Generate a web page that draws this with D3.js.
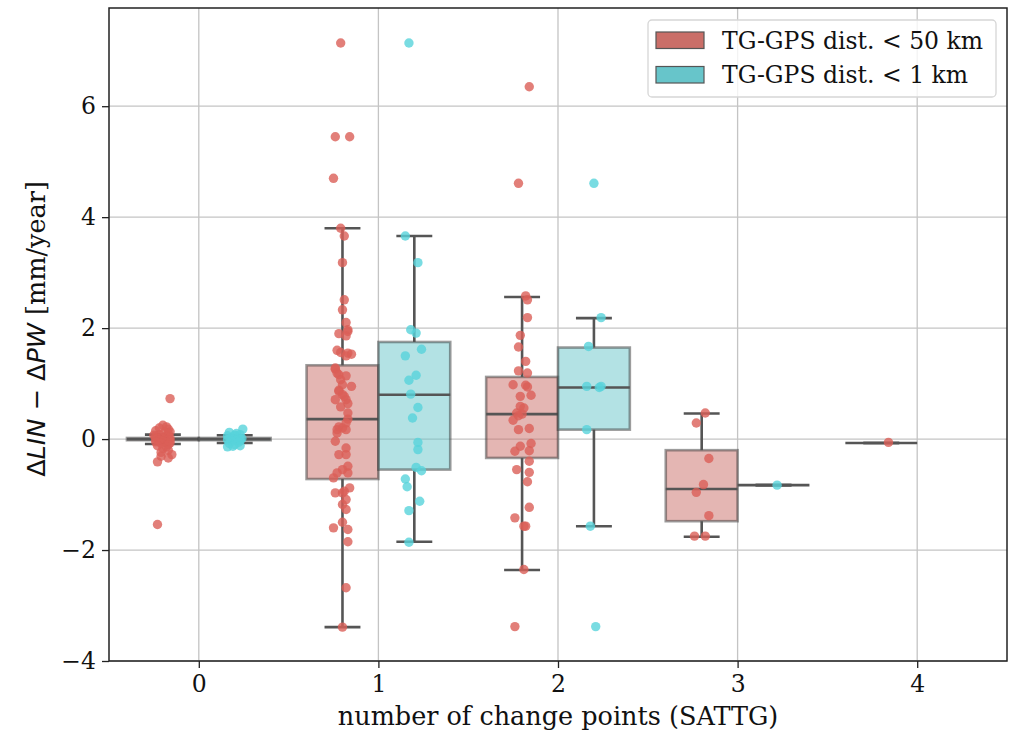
<!DOCTYPE html>
<html>
<head>
<meta charset="utf-8">
<script src="https://cdn.jsdelivr.net/npm/d3@7"></script>
<style>
  html, body { margin: 0; padding: 0; background: #fff; }
  svg { display: block; }
</style>
</head>
<body>
<div id="chart"></div>
<script>
// categories on the x axis and the two hue groups
const categories = [0, 1, 2, 3, 4];
const hueLabels = ["TG-GPS dist. < 50 km", "TG-GPS dist. < 1 km"];
const yTicks = [-4, -2, 0, 2, 4, 6];

// box stats per category: [whisker low, q1, median, q3, whisker high]
const boxes50km = [
  [-0.09, -0.02, 0.0, 0.02, 0.08],
  [-3.39, -0.72, 0.36, 1.33, 3.80],
  [-2.36, -0.34, 0.45, 1.12, 2.56],
  [-1.76, -1.48, -0.90, -0.20, 0.46],
  [-0.07, -0.07, -0.07, -0.07, -0.07]
];
const boxes1km = [
  [-0.07, -0.02, 0.0, 0.02, 0.07],
  [-1.85, -0.55, 0.80, 1.75, 3.66],
  [-1.57, 0.17, 0.93, 1.65, 2.18],
  [-0.83, -0.83, -0.83, -0.83, -0.83],
  null
];

// strip points per category: [value, jitter (category units)]
const strip50km = [
  [[0.73,0.04],[-1.54,-0.03],[0.25,0.0],[0.22,0.02],[0.20,-0.02],[0.18,0.03],[0.15,-0.04],[0.13,0.04],
   [0.12,0.01],[0.10,0.03],[0.08,-0.02],[0.07,-0.05],[0.06,0.02],[0.05,-0.04],[0.04,0.03],[0.03,-0.01],
   [0.02,0.04],[0.01,-0.03],[0.0,0.01],[0.0,-0.04],[-0.01,0.03],[-0.02,-0.02],[-0.03,0.04],[-0.04,0.0],
   [-0.05,-0.04],[-0.06,0.02],[-0.07,0.04],[-0.08,-0.01],[-0.10,0.03],[-0.12,-0.03],[-0.14,0.02],
   [-0.17,0.0],[-0.20,0.03],[-0.24,-0.01],[-0.28,0.05],[-0.31,-0.01],[-0.34,0.03],[-0.41,-0.03]],
  [[7.14,-0.01],[5.45,-0.04],[5.45,0.04],[4.70,-0.05],[3.80,-0.01],[3.66,0.01],[3.18,0.0],[2.51,0.01],
   [2.33,0.0],[2.10,0.02],[1.97,0.03],[1.94,0.03],[1.90,-0.02],[1.86,0.02],[1.60,-0.03],[1.56,-0.01],
   [1.55,0.03],[1.53,0.05],[1.50,0.02],[1.28,-0.04],[1.26,-0.04],[1.19,-0.03],[1.16,-0.02],[1.14,0.02],
   [1.07,-0.01],[0.98,0.0],[0.95,0.05],[0.88,-0.02],[0.86,-0.02],[0.80,0.0],[0.77,0.01],[0.71,-0.04],
   [0.71,0.02],[0.64,0.03],[0.58,-0.01],[0.47,0.03],[0.36,0.03],[0.29,0.02],[0.22,-0.02],[0.20,0.0],
   [0.17,-0.03],[0.17,0.02],[0.11,-0.03],[-0.04,-0.04],[-0.16,0.02],[-0.28,-0.02],[-0.28,0.02],
   [-0.49,0.03],[-0.55,0.0],[-0.61,-0.03],[-0.61,0.03],[-0.70,-0.05],[-0.88,0.04],[-0.94,0.01],
   [-0.97,-0.04],[-0.97,0.0],[-1.09,0.02],[-1.18,0.0],[-1.27,0.02],[-1.50,0.0],[-1.60,-0.05],
   [-1.63,0.03],[-1.85,0.03],[-2.68,0.02],[-3.39,0.0]],
  [[6.35,0.04],[4.61,-0.02],[2.58,0.02],[2.51,0.03],[2.19,0.03],[1.87,-0.01],[1.66,-0.02],[1.40,0.02],
   [1.23,-0.02],[1.19,0.03],[0.98,-0.05],[0.97,0.02],[0.94,0.03],[0.79,0.05],[0.77,-0.01],[0.59,-0.01],
   [0.56,0.01],[0.47,-0.03],[0.45,0.0],[0.42,-0.02],[0.34,-0.05],[0.19,0.04],[0.17,-0.02],[-0.08,0.05],
   [-0.13,-0.01],[-0.21,0.04],[-0.22,-0.04],[-0.40,0.04],[-0.55,-0.03],[-0.60,0.04],[-0.77,0.03],
   [-1.23,0.04],[-1.42,-0.04],[-1.57,0.02],[-1.57,0.01],[-2.35,0.01],[-3.38,-0.04]],
  [[0.47,0.02],[0.29,-0.03],[-0.35,0.04],[-0.82,0.01],[-0.96,-0.03],[-1.38,0.04],[-1.75,-0.04],[-1.75,0.02]],
  [[-0.06,0.04]]
];
const strip1km = [
  [[0.18,0.045],[0.12,-0.03],[0.10,0.01],[0.08,0.03],[0.07,0.0],[0.06,-0.04],[0.05,0.0],[0.03,0.02],
   [0.02,-0.02],[0.01,0.04],[0.0,-0.01],[0.0,0.03],[-0.01,-0.04],[-0.02,0.01],[-0.03,0.03],[-0.04,-0.02],
   [-0.06,0.02],[-0.08,-0.03],[-0.10,0.0],[-0.12,0.03],[-0.13,-0.01],[-0.14,-0.04]],
  [[7.14,-0.03],[3.66,-0.05],[3.18,0.02],[1.97,-0.02],[1.91,0.01],[1.62,0.04],[1.50,-0.05],[1.15,0.01],
   [1.06,-0.03],[0.81,-0.02],[0.57,0.02],[0.38,-0.01],[-0.06,0.02],[-0.19,0.02],[-0.51,0.01],
   [-0.57,0.04],[-0.72,-0.05],[-0.86,-0.04],[-1.12,0.03],[-1.29,-0.03],[-1.86,-0.03]],
  [[4.61,0.0],[2.19,0.04],[1.67,-0.03],[0.95,-0.04],[0.95,0.04],[0.93,0.03],[0.17,-0.04],[-1.57,-0.02],[-3.38,0.01]],
  [[-0.83,0.02]],
  []
];

document.addEventListener('DOMContentLoaded', function() {
  const width = 1020, height = 732;
  const left = 109, right = 1007, top = 8, bottom = 661;

  // seaborn hls colours: full for points, desaturated for boxes / legend
  const pointColors = ["#db5f57", "#57d3db"];
  const boxColors = ["#ca6e68", "#67c5ca"];
  const lineColor = "#555555";
  const hueOffset = [-0.2, 0.2];
  const serif = "'DejaVu Serif', serif";
  const sans = "'DejaVu Sans', sans-serif";

  const svg = d3.select("#chart").append("svg")
    .attr("width", width)
    .attr("height", height);

  const x = d3.scaleLinear().domain([-0.5, 4.5]).range([left, right]);
  const y = d3.scaleLinear().domain([-4, 7.77]).range([bottom, top]);

  // grid
  const grid = svg.append("g").attr("stroke", "#c4c4c4").attr("stroke-width", 1.3);
  grid.selectAll("line.v").data(categories).enter().append("line")
    .attr("x1", d => x(d)).attr("x2", d => x(d))
    .attr("y1", top).attr("y2", bottom);
  grid.selectAll("line.h").data(yTicks).enter().append("line")
    .attr("x1", left).attr("x2", right)
    .attr("y1", d => y(d)).attr("y2", d => y(d));

  // boxes
  [boxes50km, boxes1km].forEach((boxes, h) => {
    const g = svg.append("g");
    boxes.forEach((s, c) => {
      if (!s) return;
      const cx = c + hueOffset[h];
      const [lo, q1, med, q3, hi] = s;
      g.append("rect")
        .attr("x", x(cx - 0.2)).attr("width", x(cx + 0.2) - x(cx - 0.2))
        .attr("y", y(q3)).attr("height", Math.max(0, y(q1) - y(q3)))
        .attr("fill", boxColors[h]).attr("fill-opacity", 0.5)
        .attr("stroke", "#3a3a3a").attr("stroke-opacity", 0.5).attr("stroke-width", 2.6);
      // whiskers + caps
      [[q1, lo], [q3, hi]].forEach(([a, b]) => {
        g.append("line")
          .attr("x1", x(cx)).attr("x2", x(cx))
          .attr("y1", y(a)).attr("y2", y(b))
          .attr("stroke", lineColor).attr("stroke-width", 2.6);
        g.append("line")
          .attr("x1", x(cx - 0.1)).attr("x2", x(cx + 0.1))
          .attr("y1", y(b)).attr("y2", y(b))
          .attr("stroke", lineColor).attr("stroke-width", 2.6);
      });
      g.append("line")
        .attr("x1", x(cx - 0.2)).attr("x2", x(cx + 0.2))
        .attr("y1", y(med)).attr("y2", y(med))
        .attr("stroke", lineColor).attr("stroke-width", 2.6);
    });
  });

  // strip points
  [strip50km, strip1km].forEach((groups, h) => {
    groups.forEach((pts, c) => {
      svg.append("g").selectAll("circle")
        .data(pts).enter().append("circle")
        .attr("cx", d => x(c + hueOffset[h] + d[1]))
        .attr("cy", d => y(d[0]))
        .attr("r", 4.7)
        .attr("fill", pointColors[h])
        .attr("fill-opacity", 0.8);
    });
  });

  // axes
  const xAxis = svg.append("g")
    .attr("transform", `translate(0,${bottom})`)
    .call(d3.axisBottom(x).tickValues(categories).tickFormat(d3.format("d"))
      .tickSize(7).tickSizeOuter(0).tickPadding(7));
  const yAxis = svg.append("g")
    .attr("transform", `translate(${left},0)`)
    .call(d3.axisLeft(y).tickValues(yTicks).tickFormat(d3.format("d"))
      .tickSize(7).tickSizeOuter(0).tickPadding(6));
  [xAxis, yAxis].forEach(a => {
    a.select(".domain").remove();
    a.selectAll(".tick line").attr("stroke", "#222").attr("stroke-width", 1.3);
    a.selectAll(".tick text")
      .attr("fill", "#111")
      .style("font-family", serif)
      .style("font-size", "23.5px");
  });

  // frame
  svg.append("rect")
    .attr("x", left).attr("y", top)
    .attr("width", right - left).attr("height", bottom - top)
    .attr("fill", "none").attr("stroke", "#222").attr("stroke-width", 1.5);

  // axis labels
  svg.append("text")
    .attr("x", (left + right) / 2).attr("y", 725)
    .attr("text-anchor", "middle")
    .attr("fill", "#111")
    .style("font-family", serif).style("font-size", "25.5px")
    .text("number of change points (SATTG)");

  const yl = svg.append("text")
    .attr("transform", `translate(45,329) rotate(-90)`)
    .attr("text-anchor", "middle")
    .attr("fill", "#111")
    .style("font-size", "25.5px");
  yl.append("tspan").style("font-family", sans).text("Δ");
  yl.append("tspan").style("font-family", sans).style("font-style", "italic").text("LIN");
  yl.append("tspan").style("font-family", sans).text(" − Δ");
  yl.append("tspan").style("font-family", sans).style("font-style", "italic").text("PW");
  yl.append("tspan").style("font-family", serif).text(" [mm/year]");

  // legend
  const leg = svg.append("g");
  leg.append("rect")
    .attr("x", 648).attr("y", 20).attr("width", 348).attr("height", 77).attr("rx", 4)
    .attr("fill", "#fff").attr("fill-opacity", 0.8)
    .attr("stroke", "#d6d6d6").attr("stroke-width", 1.3);
  hueLabels.forEach((label, i) => {
    const yy = 32 + i * 34.5;
    leg.append("rect")
      .attr("x", 656).attr("y", yy).attr("width", 48).attr("height", 16.5)
      .attr("fill", boxColors[i]).attr("stroke", "#555").attr("stroke-width", 1.2);
    leg.append("text")
      .attr("x", 722).attr("y", yy + 16.5)
      .attr("fill", "#111")
      .style("font-family", serif).style("font-size", "23.5px")
      .text(label);
  });
});
</script>
</body>
</html>
